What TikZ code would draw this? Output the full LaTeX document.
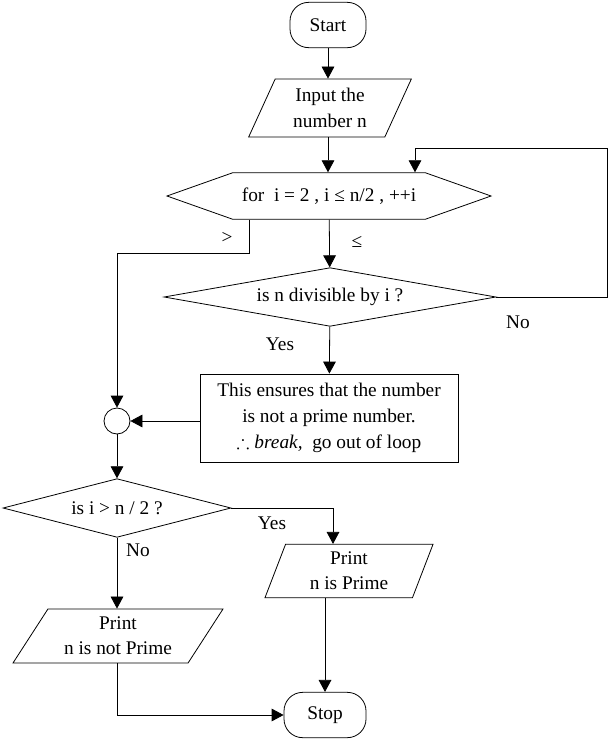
\documentclass[tikz,border=0pt]{standalone}
\usepackage{amssymb}
\usepackage{fontspec}
\setmainfont{Liberation Serif}
\usetikzlibrary{shapes.geometric,shapes.symbols,arrows.meta}

\tikzset{
  arr/.style={-{Triangle[length=9pt,width=9.5pt]}},
  terminal/.style={draw,rounded corners=14pt,minimum width=57pt,minimum height=34pt},
  io/.style={draw,trapezium,trapezium stretches body,align=center,inner xsep=0pt},
  decision/.style={draw,diamond,inner sep=0pt},
  process/.style={draw,align=center,minimum width=193.5pt,minimum height=66pt},
  joint/.style={draw,circle,inner sep=0pt,minimum size=19.5pt},
}

\begin{document}
\begin{tikzpicture}[x=0.75pt,y=-0.75pt,line width=0.6pt,
  font=\fontsize{14.5}{19}\selectfont]
\useasboundingbox (0,0) rectangle (609,739);

% main column
\node[terminal] (start) at (328,25) {Start};
\node[io,trapezium left angle=61,trapezium right angle=119,
  minimum width=122pt,minimum height=43.5pt] (input) at (330,108) {Input the\\number n};
\node[draw,signal,signal to=west and east,signal pointer angle=39,
  minimum width=243pt,minimum height=35pt] (loop) at (329,196)
  {for~~i = 2 , i ≤ n/2 , ++i};
\node[decision,aspect=5.6,minimum width=249pt,minimum height=44pt] (div) at (330,297)
  {is n divisible by i ?};
\node[process,font=\fontsize{14.5}{19.5}\selectfont] (box) at (329,418)
  {This ensures that the number\\is not a prime number.\\
   $\therefore$ \textit{break,}~~go out of loop};

% left part
\node[joint] (join) at (117,421) {};
\node[decision,aspect=3.9,minimum width=171pt,minimum height=44pt] (dec2) at (117,508)
  {is i > n / 2 ?};
\node[io,trapezium left angle=53.5,trapezium right angle=126.5,
  minimum width=157.5pt,minimum height=40.5pt] (notprime) at (118,636)
  {Print\\n is not Prime};
\node[io,trapezium left angle=66.5,trapezium right angle=113.5,
  minimum width=126pt,minimum height=40pt] (prime) at (349,571)
  {Print\\n is Prime};
\node[terminal,minimum width=61.5pt] (stop) at (325,715) {Stop};

% helper points
\coordinate (gt) at (249,253);
\coordinate (back) at (607,148);
\coordinate (backin) at (415,148);

% connectors
\draw[arr] (start) -- (start |- input.north);
\draw[arr] (start |- input.south) -- (start |- loop.north);
\draw[arr] (loop) -- (div);
\draw[arr] (div) -- (box);
\draw[arr] (div.east) -| (back) -- (backin) -- (backin |- loop.north);
\draw[arr] (gt |- loop.south) -- (gt) -| (join);
\draw[arr] (box.west |- join) -- (join);
\draw[arr] (join) -- (dec2);
\draw[arr] (dec2.south) -- (notprime.north -| dec2.south);
\draw[arr] (dec2.east) -| ([xshift=-12pt]prime.north);
\draw[arr] (prime.south -| stop.north) -- (stop.north);
\draw[arr] (notprime.south -| dec2.south) |- (stop.west);

% labels
\node (lgt) at (227,238) {>};
\node (lle) at (357,242) {≤};
\node (lno1) at (518,322) {No};
\node (lyes1) at (280,344) {Yes};
\node (lyes2) at (272,523) {Yes};
\node (lno2) at (138,550) {No};
\end{tikzpicture}
\end{document}
